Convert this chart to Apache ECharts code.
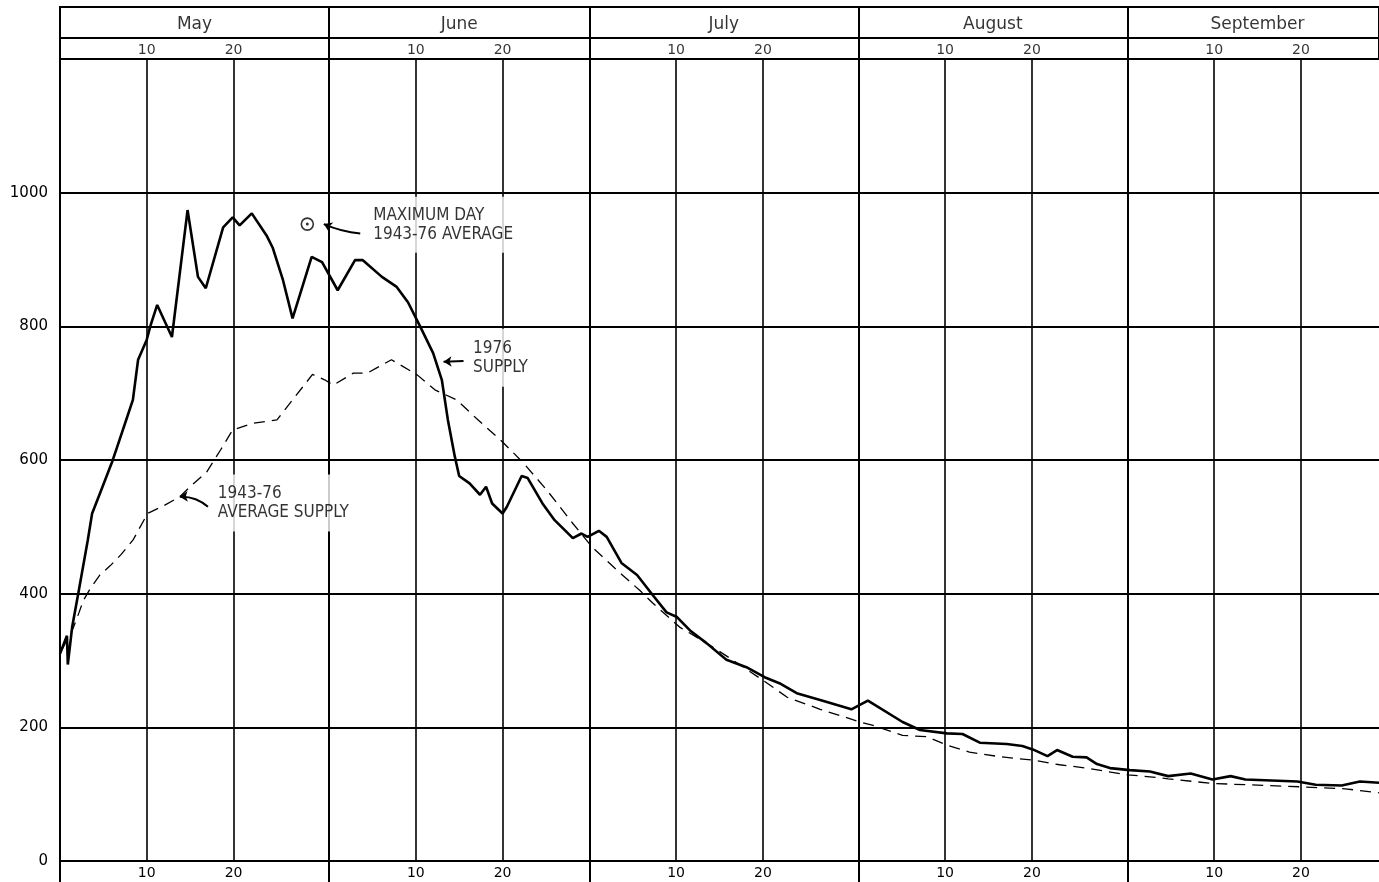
<!DOCTYPE html>
<html><head><meta charset="utf-8">
<script src="https://cdn.jsdelivr.net/npm/echarts@6/dist/echarts.min.js"></script>
<style>html,body{margin:0;padding:0;background:#fff}#c{width:1379px;height:882px}</style>
</head><body><div id="c"></div>
<script>
// ---- data (x = days counted from 1 May, y = supply) ----
const months = ['May', 'June', 'July', 'August', 'September'];
const monthStarts = [0, 31, 61, 92, 123];
const dayTicks = [10, 20];
const xMax = 152;
const yTicks = [0, 200, 400, 600, 800, 1000];
const yMax = 1200;

const supply1976 = [
  [0, 310], [0.8, 337], [0.9, 294], [1.4, 350], [2.1, 400], [3.2, 480], [3.7, 520], [4.6, 550],
  [6.0, 597], [6.6, 620], [7.5, 655], [8.4, 690], [9.0, 750], [10.0, 780], [10.4, 800], [11.2, 832],
  [12.9, 784], [14.7, 974], [15.9, 874], [16.8, 857], [18.8, 948], [19.9, 963], [20.7, 951], [22.1, 969],
  [23.8, 936], [24.5, 918], [25.7, 869], [26.8, 812], [29.0, 904], [30.2, 896], [32.0, 854], [34.0, 899],
  [34.9, 899], [37.1, 874], [38.8, 859], [40.1, 836], [41.5, 800], [43.0, 760], [44.0, 720], [44.7, 660],
  [45.5, 605], [46.0, 576], [47.2, 565], [48.4, 548], [49.1, 560], [49.8, 535], [51.0, 520], [51.5, 530],
  [53.2, 576], [53.9, 573], [55.6, 535], [57.0, 510], [59.1, 483], [60.1, 490], [60.8, 485], [62.1, 494],
  [63.0, 485], [64.7, 446], [66.5, 428], [68.3, 398], [69.9, 372], [71.1, 365], [72.6, 345], [74.5, 326],
  [76.8, 301], [79.1, 290], [81.2, 275], [82.9, 266], [84.9, 251], [87.6, 241], [91.2, 227], [93.1, 240],
  [97.1, 208], [99.1, 196], [102.2, 191], [104.0, 190], [106.0, 177], [109.1, 175], [110.9, 172], [112.1, 167],
  [113.8, 157], [114.9, 166], [116.7, 156], [118.3, 155], [119.5, 145], [121.0, 139], [123.3, 136], [125.6, 134],
  [127.7, 127], [130.3, 131], [132.8, 122], [134.9, 127], [136.6, 122], [142.6, 119], [144.7, 114], [147.7, 113],
  [149.8, 119], [152, 117]
];

const average = [
  [0.3, 318], [1.5, 348], [2.2, 372], [2.7, 390], [3.5, 408], [4.6, 428], [5.8, 442], [7.0, 458],
  [8.4, 480], [10.1, 520], [12.0, 532], [13.8, 545], [15.0, 560], [16.9, 582], [18.5, 615], [19.9, 645],
  [22.2, 655], [25.0, 660], [26.8, 690], [29.1, 728], [30.5, 720], [31.5, 712], [33.8, 730], [35.4, 730],
  [38.2, 750], [41.2, 727], [43.2, 705], [45.7, 690], [48.0, 662], [51.0, 627], [53.3, 597], [56.1, 555],
  [59.1, 505], [61.3, 470], [64.2, 435], [66.8, 405], [68.3, 386], [71.4, 350], [74.5, 326], [77.5, 301],
  [81.5, 266], [83.8, 245], [87.6, 227], [92.2, 208], [93.7, 203], [97.1, 188], [99.9, 186], [102.3, 173],
  [104.8, 163], [108.3, 156], [112.1, 151], [115.2, 144], [118.3, 139], [123.0, 129], [125.6, 126], [127.7, 123],
  [132.8, 116], [137.0, 114], [143.0, 111], [148.1, 108], [152, 102]
];

const maxDay = [[28.5, 953]];

const notes = [
  { text: 'MAXIMUM DAY\n1943-76 AVERAGE', at: [35.4, 952], pad: [9, 6, 9, 6] },
  { text: '1976\nSUPPLY', at: [46.9, 753], pad: [12, 6, 8, 6] },
  { text: '1943-76\nAVERAGE SUPPLY', at: [17.5, 535.5], pad: [10, 6, 9, 6] }
];
const leaders = [
  { from: [34.6, 939], to: [30.4, 953], curve: 0.08 },
  { from: [46.5, 748], to: [44.2, 747], curve: 0 },
  { from: [17.05, 530], to: [13.8, 545], curve: -0.2 }
];

// ---- derived ----
const monthEnds = monthStarts.slice(1).concat([153]);
const dayTickValues = [];
monthStarts.forEach(s => dayTicks.forEach(t => { if (s + t < xMax) dayTickValues.push(s + t); }));
function dayOfMonth(v) {
  let s = 0;
  monthStarts.forEach(m => { if (v >= m) s = m; });
  return String(Math.round(v - s));
}

const FONT = 'DejaVu Sans';
const NOTE_FONT = '"DejaVu Sans Condensed", "Liberation Sans Narrow", "DejaVu Sans"';

const headerData = [];
months.forEach((m, i) => headerData.push({
  name: m, value: [(monthStarts[i] + monthEnds[i]) / 2, 1.62],
  label: { fontSize: 17, color: '#000' }
}));
dayTickValues.forEach(v => headerData.push({
  name: dayOfMonth(v), value: [v, 0.4], label: { fontSize: 14, color: '#000' }
}));

const verticalLines = monthStarts.slice(1).map(v => ({ xAxis: v, lineStyle: { width: 2 } }))
  .concat(dayTickValues.map(v => ({ xAxis: v, lineStyle: { width: 1.6 } })));

const chart = echarts.init(document.getElementById('c'), null, { renderer: 'canvas' });
chart.setOption({
  backgroundColor: '#fff',
  animation: false,
  textStyle: { fontFamily: FONT, color: '#000' },
  grid: [
    { left: 60, right: 0, top: 59, bottom: 21 },
    { left: 60, right: 0, top: 7, height: 52, show: true, borderColor: '#000', borderWidth: 2 }
  ],
  xAxis: [
    {
      type: 'value', gridIndex: 0, min: 0, max: xMax,
      axisLine: { show: true, lineStyle: { color: '#000', width: 2 } },
      axisTick: { show: true, customValues: [0].concat(monthStarts.slice(1)), length: 21, lineStyle: { color: '#000', width: 2 } },
      axisLabel: { customValues: dayTickValues, formatter: dayOfMonth, fontSize: 14, color: '#000', margin: 5, fontFamily: FONT },
      splitLine: { show: false }
    },
    { type: 'value', gridIndex: 1, min: 0, max: xMax, show: false }
  ],
  yAxis: [
    {
      type: 'value', gridIndex: 0, min: 0, max: yMax, interval: 200,
      axisLine: { show: true, lineStyle: { color: '#000', width: 2 } },
      axisTick: { show: false },
      axisLabel: { formatter: v => (yTicks.indexOf(v) >= 0 ? String(v) : ''), fontSize: 15, color: '#000', margin: 12, fontFamily: FONT },
      splitLine: { show: true, lineStyle: { color: '#000', width: 1.8 } }
    },
    { type: 'value', gridIndex: 1, min: 0, max: 2.42, show: false }
  ],
  series: [
    {
      name: '1943-76 average supply', type: 'line', xAxisIndex: 0, yAxisIndex: 0,
      data: average, symbol: 'none', z: 3,
      lineStyle: { color: '#000', width: 1.3, type: [11, 7] },
      markLine: {
        silent: true, symbol: 'none', label: { show: false },
        lineStyle: { color: '#000', type: 'solid', width: 1.6 },
        data: verticalLines
      }
    },
    {
      name: '1976 supply', type: 'line', xAxisIndex: 0, yAxisIndex: 0,
      data: supply1976, symbol: 'none', z: 4,
      lineStyle: { color: '#000', width: 2.6 }
    },
    {
      name: 'Maximum day', type: 'scatter', xAxisIndex: 0, yAxisIndex: 0, z: 6,
      data: maxDay, symbol: 'circle', symbolSize: 12,
      itemStyle: { color: '#fff', borderColor: '#000', borderWidth: 1.6 }
    },
    {
      name: 'Maximum day dot', type: 'scatter', xAxisIndex: 0, yAxisIndex: 0, z: 7,
      data: maxDay, symbol: 'circle', symbolSize: 3, itemStyle: { color: '#000' }
    },
    {
      name: 'leaders', type: 'lines', coordinateSystem: 'cartesian2d', xAxisIndex: 0, yAxisIndex: 0, z: 9,
      symbol: ['none', 'arrow'], symbolSize: 8,
      lineStyle: { color: '#000', width: 2, opacity: 1 },
      data: leaders.map(l => ({ coords: [l.from, l.to], lineStyle: { curveness: l.curve } }))
    },
    {
      name: 'notes', type: 'scatter', xAxisIndex: 0, yAxisIndex: 0, z: 8, symbolSize: 0,
      data: notes.map(n => ({
        name: n.text, value: n.at,
        label: { padding: n.pad }
      })),
      label: {
        show: true, position: 'right', distance: 0, formatter: '{b}',
        fontFamily: NOTE_FONT, fontSize: 17, lineHeight: 19, color: '#000',
        backgroundColor: '#fff', align: 'left'
      }
    },
    {
      name: 'header', type: 'scatter', xAxisIndex: 1, yAxisIndex: 1, z: 5, symbolSize: 0,
      data: headerData,
      label: { show: true, position: 'inside', formatter: '{b}', color: '#000', fontFamily: FONT },
      markLine: {
        silent: true, symbol: 'none', label: { show: false },
        lineStyle: { color: '#000', type: 'solid', width: 2 },
        data: monthStarts.slice(1).map(v => ({ xAxis: v })).concat([{ yAxis: 1, lineStyle: { width: 1.8 } }])
      }
    }
  ]
});
</script>
</body></html>
